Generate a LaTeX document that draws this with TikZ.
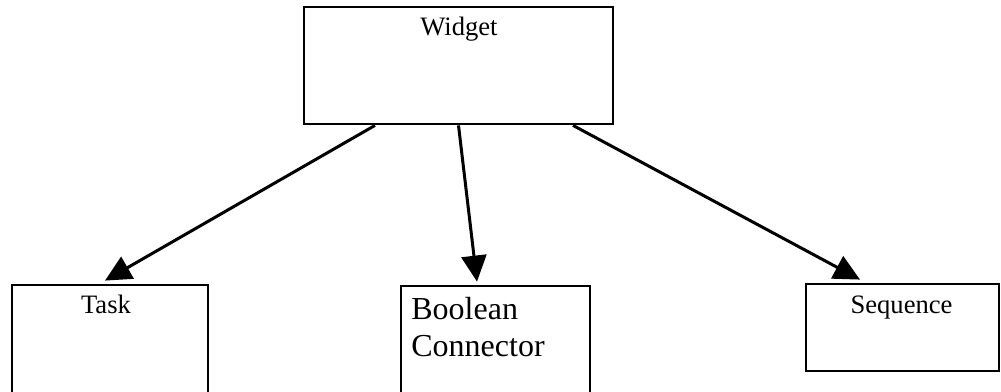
\documentclass[tikz,border=0pt]{standalone}
\usepackage{fontspec}
\setmainfont{Liberation Serif}
\usetikzlibrary{arrows.meta}

\tikzset{
  box/.style={draw, line width=1.4pt, inner sep=0pt},
  lbl/.style={anchor=base, inner sep=0pt, font=\fontsize{13.3}{16}\selectfont},
  link/.style={line width=1.5pt, -{Triangle[length=13pt,width=12.5pt]}}
}

\begin{document}
\begin{tikzpicture}[x=0.5pt,y=-0.5pt]
\clip (0,0) rectangle (1001,391);
% boxes
\node[box, minimum width=154.5pt, minimum height=58.5pt] (widget) at (458.5,65.5) {};
\node[box, minimum width=98pt, minimum height=55.5pt] (task) at (110,340.5) {};
\node[box, minimum width=94.5pt, minimum height=55pt] (boolean) at (495.5,341) {};
\node[box, minimum width=96.5pt, minimum height=43.5pt] (sequence) at (902.5,327.5) {};
% labels
\node[lbl] (widget-txt) at (459,35) {Widget};
\node[lbl] (task-txt) at (106,313) {Task};
\node[lbl, anchor=base west, align=left, font=\fontsize{16}{18.5}\selectfont] (boolean-txt) at (411,356) {Boolean\\Connector};
\node[lbl] (sequence-txt) at (901.5,313) {Sequence};
% links
\draw[link] ([xshift=-41.75pt]widget.south) -- ([xshift=-2.5pt,yshift=1.5pt]task.north);
\draw[link] (widget.south) -- ([xshift=-9.25pt,yshift=1.5pt]boolean.north);
\draw[link] ([xshift=57.25pt]widget.south) -- ([xshift=-21.25pt,yshift=1.5pt]sequence.north);
\end{tikzpicture}
\end{document}
